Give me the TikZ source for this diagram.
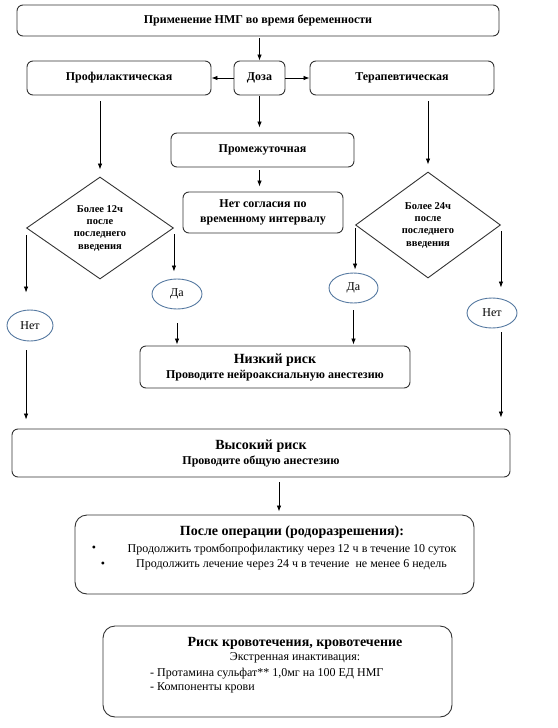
\documentclass[tikz,border=0pt]{standalone}
\usepackage{fontspec}
\setmainfont{Liberation Serif}
\usetikzlibrary{arrows.meta,shapes.geometric}

\definecolor{ovalblue}{RGB}{84,120,160}

\begin{document}
\begin{tikzpicture}[x=1pt,y=-1pt]
\useasboundingbox (0,0) rectangle (557,728);

\begin{scope}[every node/.style={rectangle,rounded corners=6pt,draw=black!80,line width=0.9pt,
              align=center,inner sep=0pt,font=\bfseries\fontsize{12}{15}\selectfont}]
    \node[minimum width=482pt,minimum height=31pt] (prim) at (258,20.5) {Применение НМГ во время беременности};
    \node[minimum width=51pt,minimum height=34pt] (doza) at (259.5,78) {Доза};
    \node[minimum width=184pt,minimum height=34pt] (prof) at (119,78) {Профилактическая};
    \node[minimum width=184pt,minimum height=34pt] (ter) at (402,78) {Терапевтическая};
    \node[minimum width=183pt,minimum height=34pt] (prom) at (262.5,150) {Промежуточная};
    \node[minimum width=160pt,minimum height=41pt] (nesogl) at (263,212.5) {Нет согласия по\\временному интервалу};
    \node[minimum width=270pt,minimum height=42pt] (low) at (275,367)
        {{\fontsize{14}{16}\selectfont Низкий риск}\\Проводите нейроаксиальную анестезию};
    \node[minimum width=498pt,minimum height=48pt] (high) at (261,453)
        {{\fontsize{14}{16}\selectfont Высокий риск}\\Проводите общую анестезию};
    \node[minimum width=399pt,minimum height=79pt,rounded corners=12pt] (post) at (274.5,554.5) {};
    \node[minimum width=349pt,minimum height=91pt,rounded corners=12pt] (krov) at (277.5,671.5) {};
\end{scope}

\begin{scope}[every node/.style={diamond,draw=black!80,line width=0.9pt,aspect=1.4,align=center,
              inner sep=0pt,font=\bfseries\fontsize{10.5}{12.3}\selectfont}]
    \node[minimum width=147pt,minimum height=102pt] (d1) at (100,228) {Более 12ч\\после\\последнего\\введения};
    \node[minimum width=145pt,minimum height=106pt] (d2) at (428,225) {Более 24ч\\после\\последнего\\введения};
\end{scope}

\begin{scope}[every node/.style={ellipse,draw=ovalblue,line width=0.9pt,inner sep=0pt,
              font=\fontsize{12}{14}\selectfont}]
    \node[minimum width=46pt,minimum height=31pt] (net1) at (30,325.5) {Нет};
    \node[minimum width=50pt,minimum height=30pt] (da1) at (177,294) {Да};
    \node[minimum width=49pt,minimum height=30pt] (da2) at (353.5,288) {Да};
    \node[minimum width=50pt,minimum height=30pt] (net2) at (492,313) {Нет};
\end{scope}

% texts inside the two lower boxes
\begin{scope}[every node/.style={inner sep=0pt,font=\fontsize{12}{14}\selectfont}]
    \node[font=\bfseries\fontsize{14}{16}\selectfont] (posttitle) at (292,532) {После операции (родоразрешения):};
    \node (bul1) at (94,549) {\textbullet};
    \node (post1) at (292,549) {Продолжить тромбопрофилактику через 12 ч в течение 10 суток};
    \node (bul2) at (103,565) {\textbullet};
    \node (post2) at (291.5,565) {Продолжить лечение через 24 ч в течение\ \ не менее 6 недель};
    \node[font=\bfseries\fontsize{14}{16}\selectfont] (krovtitle) at (295,643) {Риск кровотечения, кровотечение};
    \node (krov1) at (295,658) {Экстренная инактивация:};
    \node[anchor=west] (krov2) at (150,674) {- Протамина сульфат** 1,0мг на 100 ЕД НМГ};
    \node[anchor=west] (krov3) at (150,688) {- Компоненты крови};
\end{scope}

\begin{scope}[every edge/.style={draw=black,line width=0.8pt,-{Latex[length=6pt,width=4.5pt]}}]
    \path (doza |- prim.south) edge[shorten <=2pt] (doza.north);
    \path (doza.west) edge (prof.east);
    \path (doza.east) edge (ter.west);
    \path (doza.south) edge[shorten <=1pt,shorten >=5pt] (doza |- prom.north);
    \path (d1.north |- prof.south) edge[shorten <=6pt,shorten >=7pt] (d1.north);
    \path (d2.north |- ter.south) edge[shorten <=6pt,shorten >=7pt] (d2.north);
    \path (prom.south -| doza) edge[shorten <=3pt,shorten >=5pt] (doza |- nesogl.north);
    \path (d1.west) edge[shorten <=7pt,shorten >=17pt] (d1.west |- net1.north);
    \path (d1.east) edge[shorten <=6pt,shorten >=7pt] (d1.east |- da1.north);
    \path (d2.west) edge[shorten <=3pt,shorten >=3pt] (d2.west |- da2.north);
    \path (d2.east) edge[shorten <=6pt,shorten >=10pt] (d2.east |- net2.north);
    \path (da1.south) edge[shorten <=14pt,shorten >=1pt] (da1 |- low.north);
    \path (da2.south) edge[shorten <=7pt,shorten >=1pt] (da2 |- low.north);
    \path (d1.west |- net1.south) edge[shorten <=9pt,shorten >=9pt] (d1.west |- high.north);
    \path (d2.east |- net2.south) edge[shorten <=4pt,shorten >=11pt] (d2.east |- high.north);
    \path (279,0 |- high.south) edge[shorten <=5pt,shorten >=3pt] (279,0 |- post.north);
\end{scope}
\end{tikzpicture}
\end{document}
